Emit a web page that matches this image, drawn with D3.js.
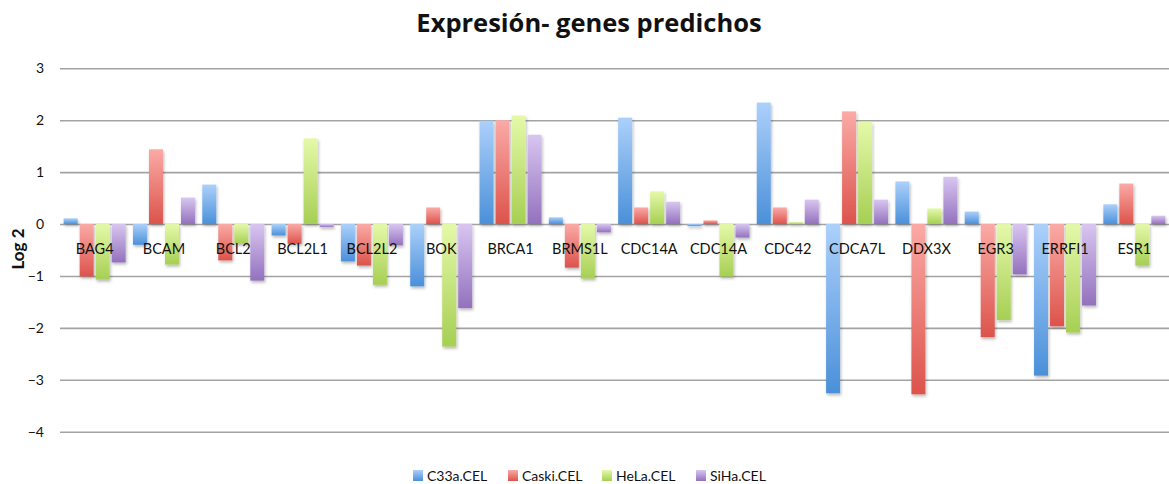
<!DOCTYPE html>
<html>
<head>
<meta charset="utf-8">
<script src="https://cdn.jsdelivr.net/npm/d3@7"></script>
<style>
  html, body { margin: 0; padding: 0; background: #fff; }
  svg { display: block; }
  text { font-family: Lato, "Open Sans", sans-serif; fill: #111; }
</style>
</head>
<body>
<svg id="chart" width="1169" height="484"></svg>
<script>
// Genes (CDC14A appears twice — two probes)
const genes = ["BAG4","BCAM","BCL2","BCL2L1","BCL2L2","BOK","BRCA1","BRMS1L",
               "CDC14A","CDC14A","CDC42","CDCA7L","DDX3X","EGR3","ERRFI1","ESR1"];

// Log2 expression per cell line
const c33a  = [0.11,-0.40, 0.76,-0.22,-0.72,-1.20, 1.99, 0.13, 2.05,-0.04, 2.34,-3.26, 0.82, 0.24,-2.92, 0.38];
const caski = [-1.01, 1.44,-0.70,-0.38,-0.80, 0.32, 2.00,-0.84, 0.32, 0.07, 0.32, 2.17,-3.28,-2.18,-1.97, 0.78];
const hela  = [-1.07,-0.78,-0.38, 1.65,-1.17,-2.36, 2.09,-1.05, 0.63,-1.01, 0.04, 1.97, 0.30,-1.85,-2.09,-0.80];
const siha  = [-0.74, 0.51,-1.09,-0.06,-0.41,-1.62, 1.72,-0.16, 0.43,-0.26, 0.47, 0.47, 0.91,-0.97,-1.57, 0.16];

const seriesNames = ["C33a.CEL","Caski.CEL","HeLa.CEL","SiHa.CEL"];
const seriesValues = [c33a, caski, hela, siha];
const yTicks = [3, 2, 1, 0, -1, -2, -3, -4];

// light (top) -> dark (bottom) fill for each series
const gradStops = [
  ["#acd0fb", "#4a90d9"],
  ["#fbaaa6", "#dc534b"],
  ["#e5f9a9", "#a6cf53"],
  ["#d8c6f1", "#9371bd"]
];

const svg = d3.select("#chart");
const plot = { left: 60, right: 1169, top: 68.3, bottom: 431.7 };

const defs = svg.append("defs");
gradStops.forEach((s, i) => {
  const g = defs.append("linearGradient")
    .attr("id", "grad" + i).attr("x1", 0).attr("y1", 0).attr("x2", 0).attr("y2", 1);
  g.append("stop").attr("offset", "0%").attr("stop-color", s[0]);
  g.append("stop").attr("offset", "100%").attr("stop-color", s[1]);
});
const shadow = defs.append("filter").attr("id", "shadow")
  .attr("x", "-30%").attr("y", "-10%").attr("width", "160%").attr("height", "130%");
shadow.append("feDropShadow").attr("dx", 1).attr("dy", 2)
  .attr("stdDeviation", 1.6).attr("flood-color", "#000").attr("flood-opacity", 0.28);

const x = d3.scaleBand().domain(d3.range(genes.length))
  .range([plot.left, plot.right]).paddingInner(0).paddingOuter(0);
const y = d3.scaleLinear().domain([-4, 3]).range([plot.bottom, plot.top]);

const barW = 14, barStep = 16;
const groupW = barStep * 3 + barW;

// title
svg.append("text")
  .attr("x", 589).attr("y", 31.5)
  .attr("text-anchor", "middle")
  .style("font-family", "'Open Sans', Lato, sans-serif")
  .style("font-size", "25.5px").style("font-weight", "bold")
  .text("Expresión- genes predichos");

// y axis label
svg.append("text")
  .attr("transform", "translate(24,249) rotate(-90)")
  .attr("text-anchor", "middle")
  .style("font-size", "17px").style("font-weight", "bold")
  .text("Log 2");

// gridlines and tick labels via axis
const yAxis = d3.axisLeft(y).tickValues(yTicks).tickSize(-(plot.right - plot.left)).tickPadding(16)
  .tickFormat(d3.format("d"));
const gAxis = svg.append("g").attr("transform", `translate(${plot.left},0)`).call(yAxis);
gAxis.select(".domain").remove();
gAxis.selectAll(".tick line").attr("stroke", "#a3a3a3").attr("stroke-width", 1.6);
gAxis.selectAll(".tick text")
  .attr("x", -16)
  .style("font-family", "Lato, 'Open Sans', sans-serif")
  .style("font-size", "14px").attr("fill", "#111");

// bars
const bars = svg.append("g").attr("filter", "url(#shadow)");
seriesValues.forEach((vals, s) => {
  bars.selectAll(null).data(vals).enter().append("rect")
    .attr("x", (d, i) => x(i) + (x.bandwidth() - groupW) / 2 + s * barStep)
    .attr("y", d => y(Math.max(0, d)))
    .attr("width", barW)
    .attr("height", d => Math.abs(y(d) - y(0)))
    .attr("fill", `url(#grad${s})`);
});

// category labels
svg.append("g").selectAll("text").data(genes).enter().append("text")
  .attr("x", (d, i) => x(i) + x.bandwidth() / 2)
  .attr("y", 254)
  .attr("text-anchor", "middle")
  .style("font-size", "14.5px")
  .text(d => d);

// legend
const legendX = [413, 508, 602, 696];
const lg = svg.append("g");
seriesNames.forEach((n, i) => {
  lg.append("rect").attr("x", legendX[i]).attr("y", 470).attr("width", 10).attr("height", 11)
    .attr("fill", `url(#grad${i})`);
  lg.append("text").attr("x", legendX[i] + 14).attr("y", 481)
    .style("font-size", "14px").text(n);
});
</script>
</body>
</html>
